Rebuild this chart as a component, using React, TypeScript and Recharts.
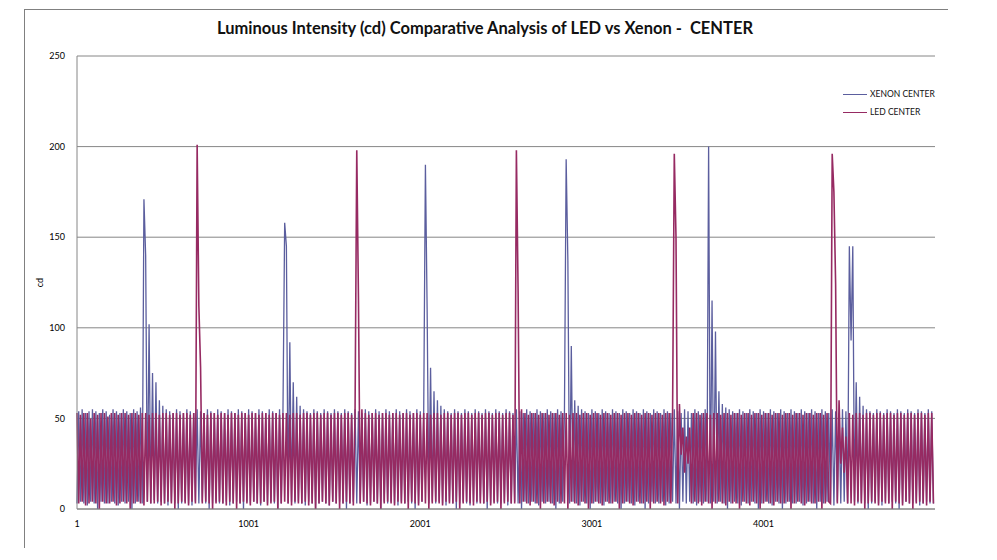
import { LineChart, Line, XAxis, YAxis, CartesianGrid } from 'recharts';

// readings sampled every 10th measurement (1, 11, 21 ... 4991)
const SAMPLE_STEP = 10;

const xenonCenter = [
  3, 54, 4, 55, 3, 53, 2, 54, 4, 55, 3, 54, 0, 53, 4, 55, 3, 54, 3, 52,
  4, 55, 3, 54, 2, 53, 4, 55, 3, 54, 4, 53, 0, 55, 3, 54, 4, 56, 3, 171,
  140, 4, 102, 3, 75, 5, 70, 3, 60, 4, 57, 3, 55, 2, 54, 4, 53, 3, 55, 0,
  54, 3, 53, 4, 55, 3, 54, 2, 53, 4, 55, 3, 54, 4, 53, 3, 55, 0, 54, 3,
  53, 4, 55, 3, 54, 3, 53, 4, 55, 2, 54, 3, 53, 4, 55, 3, 54, 0, 53, 4,
  55, 3, 54, 4, 53, 3, 55, 2, 54, 4, 53, 3, 55, 4, 54, 3, 53, 0, 55, 3,
  54, 158, 145, 3, 92, 4, 70, 3, 62, 4, 57, 3, 55, 2, 54, 4, 53, 3, 55, 0,
  54, 3, 53, 4, 55, 3, 54, 2, 53, 4, 55, 3, 54, 4, 53, 3, 55, 0, 54, 3,
  53, 4, 55, 3, 54, 3, 53, 4, 55, 2, 54, 3, 53, 4, 55, 3, 54, 0, 53, 4,
  55, 3, 54, 4, 53, 3, 55, 2, 54, 4, 53, 3, 55, 4, 54, 3, 53, 0, 55, 3,
  54, 4, 53, 190, 110, 3, 78, 4, 65, 3, 60, 4, 57, 3, 55, 2, 54, 4, 53, 3,
  55, 0, 54, 3, 53, 4, 55, 3, 54, 2, 53, 4, 55, 3, 54, 4, 53, 3, 55, 0,
  54, 3, 53, 4, 55, 3, 54, 3, 53, 4, 55, 2, 54, 3, 53, 4, 55, 3, 54, 0,
  53, 4, 55, 3, 54, 4, 53, 3, 55, 2, 54, 4, 53, 3, 55, 4, 54, 3, 53, 0,
  55, 3, 54, 4, 53, 193, 137, 3, 90, 4, 60, 3, 57, 2, 55, 4, 54, 3, 53, 0,
  55, 3, 54, 4, 53, 3, 55, 2, 54, 4, 53, 3, 55, 4, 54, 3, 53, 0, 55, 3,
  54, 4, 53, 3, 55, 2, 54, 4, 53, 3, 55, 0, 54, 3, 53, 4, 55, 3, 54, 3,
  53, 4, 55, 2, 54, 3, 53, 4, 55, 3, 54, 0, 53, 4, 55, 3, 54, 4, 53, 3,
  55, 2, 54, 4, 53, 3, 55, 4, 200, 3, 115, 4, 98, 3, 65, 4, 58, 3, 56, 0,
  55, 3, 54, 4, 53, 3, 55, 2, 54, 4, 53, 3, 55, 4, 54, 3, 53, 0, 55, 3,
  54, 4, 53, 3, 55, 2, 54, 4, 53, 3, 55, 0, 54, 3, 53, 4, 55, 3, 54, 3,
  53, 4, 55, 2, 54, 3, 53, 4, 55, 3, 54, 0, 53, 4, 55, 3, 54, 4, 53, 3,
  55, 2, 54, 4, 53, 3, 55, 4, 54, 3, 145, 93, 145, 4, 70, 3, 62, 4, 57, 3,
  55, 0, 54, 3, 53, 4, 55, 3, 54, 2, 53, 4, 55, 3, 54, 4, 53, 3, 55, 0,
  54, 3, 53, 4, 55, 3, 54, 3, 53, 4, 55, 2, 54, 3, 53, 4, 55, 3, 54, 3,
];

const ledCenter = [
  53, 3, 52, 4, 53, 2, 53, 3, 50, 4, 53, 3, 52, 0, 53, 4, 53, 3, 51, 3,
  53, 4, 53, 2, 52, 3, 53, 4, 53, 3, 52, 0, 53, 3, 53, 4, 52, 3, 53, 2,
  53, 4, 52, 3, 53, 3, 53, 4, 52, 2, 53, 3, 53, 4, 52, 3, 53, 0, 53, 3,
  52, 4, 53, 3, 53, 2, 52, 4, 53, 3, 201, 112, 78, 3, 53, 4, 52, 3, 53, 0,
  53, 3, 52, 4, 53, 3, 53, 2, 52, 4, 53, 3, 53, 0, 52, 3, 53, 4, 53, 3,
  52, 2, 53, 4, 53, 3, 52, 3, 53, 4, 53, 2, 52, 3, 53, 4, 53, 0, 52, 3,
  53, 4, 53, 3, 52, 2, 53, 4, 53, 3, 52, 3, 53, 4, 53, 2, 52, 3, 53, 0,
  53, 3, 52, 4, 53, 3, 53, 2, 52, 4, 53, 3, 53, 0, 52, 3, 53, 4, 53, 3,
  52, 2, 53, 198, 115, 3, 55, 4, 53, 3, 52, 2, 53, 4, 53, 3, 52, 0, 53, 3,
  53, 4, 52, 3, 53, 2, 53, 4, 52, 3, 53, 3, 53, 0, 52, 4, 53, 3, 53, 2,
  52, 4, 53, 3, 53, 0, 52, 3, 53, 4, 53, 3, 52, 2, 53, 4, 53, 3, 52, 3,
  53, 4, 53, 0, 52, 3, 53, 4, 53, 3, 52, 2, 53, 4, 53, 3, 52, 3, 53, 4,
  53, 2, 52, 3, 53, 4, 53, 0, 52, 3, 53, 4, 53, 3, 52, 3, 198, 120, 3, 55,
  4, 53, 3, 52, 2, 53, 4, 53, 3, 52, 0, 53, 3, 53, 4, 52, 3, 53, 2, 53,
  4, 52, 3, 53, 3, 53, 0, 52, 4, 53, 3, 53, 2, 52, 4, 53, 3, 53, 0, 52,
  3, 53, 4, 53, 3, 52, 2, 53, 4, 53, 3, 52, 3, 53, 4, 53, 0, 52, 3, 53,
  4, 53, 3, 52, 2, 53, 4, 53, 3, 52, 3, 53, 4, 53, 0, 52, 3, 53, 4, 53,
  3, 52, 2, 53, 4, 53, 3, 52, 196, 150, 3, 58, 30, 45, 20, 40, 25, 45, 3, 53,
  4, 53, 3, 52, 2, 53, 4, 53, 3, 52, 0, 53, 3, 53, 4, 52, 3, 53, 2, 53,
  4, 52, 3, 53, 3, 53, 0, 52, 4, 53, 3, 53, 2, 52, 4, 53, 3, 53, 0, 52,
  3, 53, 4, 53, 3, 52, 2, 53, 4, 53, 3, 52, 3, 53, 4, 53, 0, 52, 3, 53,
  4, 53, 3, 52, 2, 53, 4, 53, 3, 52, 3, 53, 4, 53, 0, 52, 3, 53, 4, 3,
  196, 175, 124, 3, 60, 25, 45, 20, 40, 3, 53, 3, 52, 2, 53, 4, 53, 3, 52, 0,
  53, 3, 53, 4, 52, 3, 53, 2, 53, 4, 52, 3, 53, 3, 53, 0, 52, 4, 53, 3,
  53, 2, 52, 4, 53, 3, 53, 0, 52, 3, 53, 4, 53, 3, 52, 2, 53, 4, 53, 3,
];

const xTicks = [1, 1001, 2001, 3001, 4001];
const yTicks = [0, 50, 100, 150, 200, 250];

const SERIES = [
  { key: 'xenon', name: 'XENON CENTER', color: '#5b5e9e', width: 1.3 },
  { key: 'led', name: 'LED CENTER', color: '#962a62', width: 1.6 },
];

const FONT = 'Lato, "Open Sans", sans-serif';

export default function App() {
  const data = xenonCenter.map((v, i) => ({
    n: 1 + i * SAMPLE_STEP,
    xenon: v,
    led: ledCenter[i],
  }));

  return (
    <div style={{ position: 'absolute', left: 0, top: 0, width: 997, height: 560, background: '#fff', fontFamily: FONT }}>
      {/* chart area frame (only left + top visible in the original) */}
      <div style={{ position: 'absolute', left: 24, top: 9, width: 923, height: 538, borderLeft: '1px solid #808080', borderTop: '1px solid #808080' }} />

      <div style={{ position: 'absolute', left: 0, top: 18, width: 970, textAlign: 'center', fontSize: 16.5, fontWeight: 700, color: '#111' }}>
        Luminous Intensity (cd) Comparative Analysis of LED vs Xenon -&nbsp; CENTER
      </div>

      <div style={{ position: 'absolute', left: 0, top: 0 }}>
        <LineChart width={997} height={560} data={data} margin={{ top: 56, right: 62, bottom: 21, left: 37 }}>
          <CartesianGrid vertical={false} stroke="#868686" strokeWidth={1} />
          <XAxis
            dataKey="n"
            type="number"
            domain={[1, 5000]}
            ticks={xTicks}
            height={30}
            tickLine={false}
            axisLine={{ stroke: '#868686' }}
            tick={{ fontSize: 9, fill: '#000', fontFamily: FONT }}
            tickMargin={6}
          />
          <YAxis
            domain={[0, 250]}
            ticks={yTicks}
            width={40}
            tickLine={false}
            axisLine={{ stroke: '#868686' }}
            tick={{ fontSize: 9, fill: '#000', fontFamily: FONT }}
            tickMargin={6}
            label={{ value: 'cd', angle: -90, position: 'insideLeft', offset: 3, style: { fontSize: 9, fill: '#000', fontFamily: FONT, textAnchor: 'middle' } }}
          />
          {SERIES.map((s) => (
            <Line
              key={s.key}
              dataKey={s.key}
              name={s.name}
              stroke={s.color}
              strokeWidth={s.width}
              dot={false}
              type="linear"
              isAnimationActive={false}
            />
          ))}
        </LineChart>
      </div>

      {/* legend */}
      {SERIES.map((s, i) => (
        <div key={s.key} style={{ position: 'absolute', left: 843, top: 89 + i * 18, display: 'flex', alignItems: 'center', fontSize: 8.5, color: '#111' }}>
          <span style={{ display: 'inline-block', width: 24, height: 0, borderTop: `1px solid ${s.color}`, marginRight: 3 }} />
          {s.name}
        </div>
      ))}
    </div>
  );
}
